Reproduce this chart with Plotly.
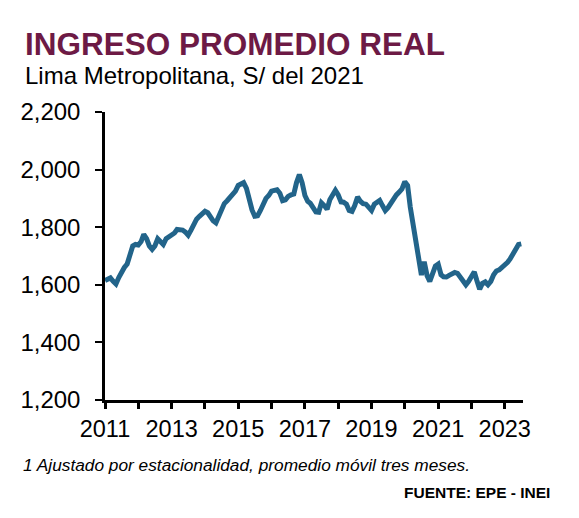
import plotly.graph_objects as go

# Ingreso promedio real mensual, Lima Metropolitana (S/ del 2021), ene-2011 a jul-2023
meses = [f"{2011 + i // 12}-{i % 12 + 1:02d}-01" for i in range(151)]
ingreso = [
    1615, 1620, 1624, 1612, 1603, 1625, 1646, 1660, 1672, 1700, 1735, 1740,
    1738, 1750, 1775, 1760, 1735, 1723, 1735, 1760, 1750, 1740, 1760, 1765,
    1772, 1780, 1792, 1793, 1790, 1783, 1772, 1790, 1812, 1828, 1838, 1845,
    1855, 1850, 1835, 1822, 1815, 1838, 1865, 1882, 1892, 1902, 1913, 1925,
    1945, 1953, 1955, 1935, 1888, 1860, 1838, 1840, 1858, 1880, 1900, 1910,
    1925, 1928, 1930, 1918, 1892, 1895, 1907, 1912, 1915, 1955, 1983, 1955,
    1910, 1890, 1883, 1868, 1853, 1852, 1885, 1875, 1862, 1895, 1912, 1928,
    1912, 1888, 1887, 1880, 1858, 1855, 1875, 1905, 1890, 1882, 1880, 1870,
    1858, 1880, 1888, 1893, 1875, 1858, 1868, 1885, 1900, 1912, 1922, 1933,
    1958, 1945, 1870, 1810, 1730, 1670, 1634, 1680, 1632, 1612, 1635, 1665,
    1672, 1635, 1628, 1627, 1633, 1638, 1643, 1640, 1628, 1610, 1600, 1612,
    1625, 1645, 1615, 1585, 1605, 1610, 1600, 1612, 1635, 1648, 1652, 1660,
    1668, 1678, 1690, 1710, 1725, 1740, 1742,
]

anios = list(range(2011, 2024))
tick_vals = [f"{a}-01-01" for a in anios]
tick_text = [str(a) if a % 2 == 1 else "" for a in anios]

fuente = "Liberation Sans, Arial, sans-serif"

fig = go.Figure()
fig.add_trace(go.Scatter(x=meses, y=ingreso, mode="lines",
                         line=dict(color="#22648A", width=5), hoverinfo="skip"))

# la pagina deja 8px de margen, por eso el lienzo es un poco mas chico
fig.update_layout(
    width=571, height=510,
    margin=dict(l=97, r=56, t=104, b=118),
    plot_bgcolor="white", paper_bgcolor="white",
    showlegend=False,
    font=dict(family=fuente, color="black", size=23),
    xaxis=dict(range=["2011-01-01", "2023-07-20"], tickmode="array",
               tickvals=tick_vals, ticktext=tick_text,
               showline=True, linecolor="black", linewidth=2.5,
               ticks="outside", ticklen=6, tickwidth=2.5, tickcolor="black",
               showgrid=False, zeroline=False, tickfont=dict(size=23.5)),
    yaxis=dict(range=[1200, 2200], tickvals=[1200, 1400, 1600, 1800, 2000, 2200],
               tickformat=",d", showline=True, linecolor="black", linewidth=2.5,
               ticks="outside", ticklen=7, tickwidth=2, tickcolor="black",
               showgrid=False, zeroline=False, tickfont=dict(size=24),
               ticklabelstandoff=10),
)

fig.add_annotation(text="<b>INGRESO PROMEDIO REAL</b>", xref="paper", yref="paper",
                   x=-0.196, y=1.236, xanchor="left", yanchor="middle", showarrow=False,
                   font=dict(size=31.5, color="#6D1A45", family=fuente))
fig.add_annotation(text="Lima Metropolitana, S/ del 2021", xref="paper", yref="paper",
                   x=-0.196, y=1.128, xanchor="left", yanchor="middle", showarrow=False,
                   font=dict(size=24, color="black", family=fuente))
fig.add_annotation(text="<i>1 Ajustado por estacionalidad, promedio móvil tres meses.</i>",
                   xref="paper", yref="paper", x=-0.2, y=-0.226,
                   xanchor="left", yanchor="middle", showarrow=False,
                   font=dict(size=17.3, color="black", family=fuente))
fig.add_annotation(text="<b>FUENTE: EPE - INEI</b>", xref="paper", yref="paper",
                   x=1.07, y=-0.32, xanchor="right", yanchor="middle", showarrow=False,
                   font=dict(size=15.5, color="black", family=fuente))

fig.write_html("out.html")
